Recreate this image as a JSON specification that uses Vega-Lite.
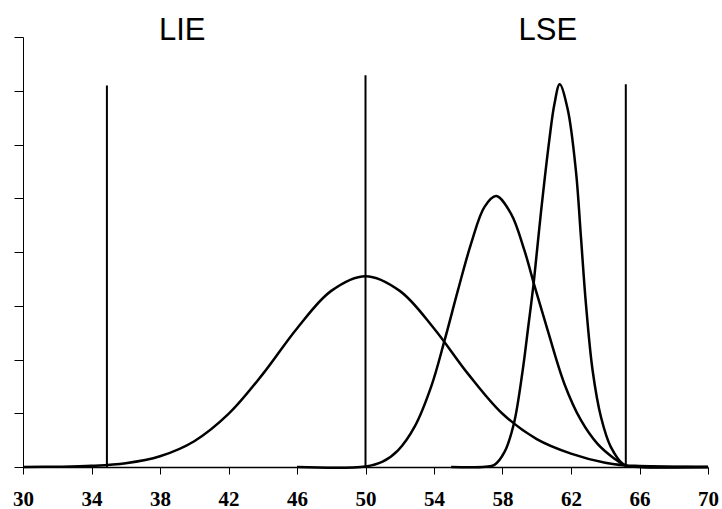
{
  "$schema": "https://vega.github.io/schema/vega-lite/v6.json",
  "width": 685,
  "height": 430,
  "autosize": "none",
  "padding": {"left": 23, "top": 37, "right": 14, "bottom": 42},
  "background": "white",
  "config": {"view": {"stroke": null}},
  "datasets": {
    "curves": [
      {"s": "A", "x": 30, "y": 0.001}, {"s": "A", "x": 32, "y": 0.005}, {"s": "A", "x": 34, "y": 0.021},
      {"s": "A", "x": 36, "y": 0.07}, {"s": "A", "x": 38, "y": 0.2}, {"s": "A", "x": 40, "y": 0.48},
      {"s": "A", "x": 42, "y": 0.987}, {"s": "A", "x": 44, "y": 1.728}, {"s": "A", "x": 46, "y": 2.578},
      {"s": "A", "x": 48, "y": 3.277}, {"s": "A", "x": 50, "y": 3.55}, {"s": "A", "x": 52, "y": 3.277},
      {"s": "A", "x": 54, "y": 2.578}, {"s": "A", "x": 56, "y": 1.728}, {"s": "A", "x": 58, "y": 0.99},
      {"s": "A", "x": 60, "y": 0.52}, {"s": "A", "x": 62, "y": 0.25}, {"s": "A", "x": 64, "y": 0.08},
      {"s": "A", "x": 65.2, "y": 0.03}, {"s": "A", "x": 66, "y": 0.02}, {"s": "A", "x": 68, "y": 0.005},
      {"s": "A", "x": 70, "y": 0.001},
      {"s": "B", "x": 46, "y": 0}, {"s": "B", "x": 50, "y": 0.01}, {"s": "B", "x": 51, "y": 0.1},
      {"s": "B", "x": 51.9, "y": 0.31}, {"s": "B", "x": 52.87, "y": 0.75}, {"s": "B", "x": 53.84, "y": 1.5},
      {"s": "B", "x": 54.62, "y": 2.36}, {"s": "B", "x": 55.4, "y": 3.29}, {"s": "B", "x": 56.17, "y": 4.16},
      {"s": "B", "x": 56.95, "y": 4.84}, {"s": "B", "x": 57.63, "y": 5.04}, {"s": "B", "x": 58.5, "y": 4.71},
      {"s": "B", "x": 59.28, "y": 4.03}, {"s": "B", "x": 59.86, "y": 3.38}, {"s": "B", "x": 60.64, "y": 2.54},
      {"s": "B", "x": 61.61, "y": 1.55}, {"s": "B", "x": 62.58, "y": 0.87}, {"s": "B", "x": 63.55, "y": 0.43},
      {"s": "B", "x": 64.52, "y": 0.16}, {"s": "B", "x": 65.24, "y": 0.02}, {"s": "B", "x": 66, "y": 0.005},
      {"s": "B", "x": 70, "y": 0},
      {"s": "C", "x": 55, "y": 0}, {"s": "C", "x": 57.0, "y": 0.005}, {"s": "C", "x": 57.53, "y": 0.04},
      {"s": "C", "x": 58.12, "y": 0.28}, {"s": "C", "x": 58.66, "y": 0.8}, {"s": "C", "x": 59.18, "y": 1.8},
      {"s": "C", "x": 59.5, "y": 2.6}, {"s": "C", "x": 59.83, "y": 3.45}, {"s": "C", "x": 60.25, "y": 4.75},
      {"s": "C", "x": 60.74, "y": 6.1}, {"s": "C", "x": 61.03, "y": 6.75}, {"s": "C", "x": 61.34, "y": 7.12},
      {"s": "C", "x": 61.81, "y": 6.65}, {"s": "C", "x": 62.29, "y": 5.5}, {"s": "C", "x": 62.58, "y": 4.28},
      {"s": "C", "x": 62.87, "y": 3.04}, {"s": "C", "x": 63.26, "y": 1.8}, {"s": "C", "x": 63.75, "y": 0.93},
      {"s": "C", "x": 64.33, "y": 0.37}, {"s": "C", "x": 65.1, "y": 0.04}, {"s": "C", "x": 66, "y": 0.002},
      {"s": "C", "x": 70, "y": 0}
    ],
    "rules": [
      {"x": 34.9, "y0": 0, "y1": 7.1},
      {"x": 50, "y0": 0, "y1": 7.29},
      {"x": 65.2, "y0": 0, "y1": 7.12}
    ],
    "labels": [
      {"x": 39.3, "y": 7.94, "t": "LIE"},
      {"x": 60.65, "y": 7.94, "t": "LSE"}
    ]
  },
  "layer": [
    {
      "data": {"name": "rules"},
      "mark": {"type": "rule", "color": "black", "strokeWidth": 2},
      "encoding": {
        "x": {"field": "x", "type": "quantitative"},
        "y": {"field": "y0", "type": "quantitative"},
        "y2": {"field": "y1"}
      }
    },
    {
      "data": {"name": "curves"},
      "mark": {"type": "line", "color": "black", "strokeWidth": 2.5, "interpolate": "catmull-rom"},
      "encoding": {
        "x": {
          "field": "x", "type": "quantitative",
          "scale": {"domain": [30, 70], "nice": false, "zero": false},
          "axis": {
            "values": [30,32,34,36,38,40,42,44,46,48,50,52,54,56,58,60,62,64,66,68,70],
            "labelExpr": "datum.value % 4 == 2 ? datum.label : ''",
            "title": null, "grid": false,
            "domainColor": "black", "domainWidth": 1.5,
            "tickColor": "black", "tickSize": 7, "tickWidth": 1,
            "labelFont": "Liberation Serif", "labelFontWeight": "bold", "labelFontSize": 21,
            "labelColor": "black", "labelPadding": 14, "labelFlush": false
          }
        },
        "y": {
          "field": "y", "type": "quantitative",
          "scale": {"domain": [0, 8], "nice": false},
          "axis": {
            "values": [0,1,2,3,4,5,6,7,8],
            "labels": false, "title": null, "grid": false,
            "domainColor": "black", "domainWidth": 1,
            "tickColor": "black", "tickSize": 9, "tickWidth": 1
          }
        },
        "detail": {"field": "s"}
      }
    },
    {
      "data": {"name": "labels"},
      "mark": {"type": "text", "font": "Liberation Sans", "fontSize": 31, "color": "black", "align": "center", "baseline": "alphabetic"},
      "encoding": {
        "x": {"field": "x", "type": "quantitative"},
        "y": {"field": "y", "type": "quantitative"},
        "text": {"field": "t"}
      }
    }
  ]
}
